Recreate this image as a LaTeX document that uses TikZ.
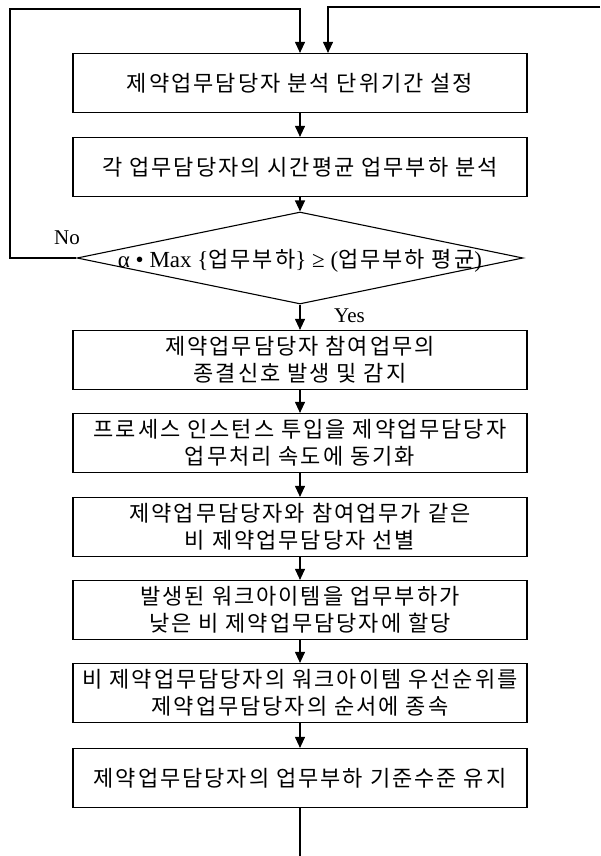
\documentclass[tikz,border=0pt]{standalone}
\usepackage{fontspec}
\setmainfont{Liberation Serif}
\newfontfamily\kr[LetterSpace=9]{Noto Sans CJK KR}
\usetikzlibrary{arrows.meta,shapes.geometric}
\begin{document}
\begin{tikzpicture}[x=1pt,y=-1pt,
  box/.style={draw, line width=1.2pt, minimum width=454pt, minimum height=59pt, inner sep=0pt, align=center, font=\kr\fontsize{22}{27}\selectfont},
  flow/.style={line width=1.1pt, -{Triangle[length=11pt,width=10pt]}},
  plain/.style={line width=1.1pt},
  lbl/.style={font=\fontsize{21}{24}\selectfont, inner sep=0pt}]
\useasboundingbox (0,0) rectangle (600,856);
\node[box] (b1) at (300,83) {제약업무담당자 분석 단위기간 설정};
\node[box] (b2) at (300,167) {각 업무담당자의 시간평균 업무부하 분석};
\node[diamond, draw, line width=1.1pt, minimum width=446pt, minimum height=92pt, inner sep=0pt] (d) at (300,258) {};
\node[font=\fontsize{23}{27}\selectfont, inner sep=0pt] (dt) at (300,261) {α • Max \{{\kr\fontsize{22}{27}\selectfont 업무부하}\} ≥ ({\kr\fontsize{22}{27}\selectfont 업무부하 평균})};
\node[box] (b3) at (300,360) {제약업무담당자 참여업무의\\종결신호 발생 및 감지};
\node[box] (b4) at (300,443) {프로세스 인스턴스 투입을 제약업무담당자\\업무처리 속도에 동기화};
\node[box] (b5) at (300,527) {제약업무담당자와 참여업무가 같은\\비 제약업무담당자 선별};
\node[box] (b6) at (300,610) {발생된 워크아이템을 업무부하가\\낮은 비 제약업무담당자에 할당};
\node[box] (b7) at (300,693) {비 제약업무담당자의 워크아이템 우선순위를\\제약업무담당자의 순서에 종속};
\node[box] (b8) at (300,778) {제약업무담당자의 업무부하 기준수준 유지};
\node[lbl, anchor=west] (yes) at (334,316) {Yes};
\node[lbl] (no) at (67,238) {No};
\coordinate (lc) at (10,9);
\coordinate (rs) at (600,7);
\coordinate (endp) at (300,856);
\draw[flow] (b1) -- (b2);
\draw[flow] (b2) -- (d);
\draw[flow] (d) -- (b3);
\draw[flow] (b3) -- (b4);
\draw[flow] (b4) -- (b5);
\draw[flow] (b5) -- (b6);
\draw[flow] (b6) -- (b7);
\draw[flow] (b7) -- (b8);
\draw[plain] (b8) -- (endp);
\draw[flow] (d.west) -| (lc) -| (b1.north);
\draw[flow] (rs) -| ([xshift=28pt]b1.north);
\end{tikzpicture}
\end{document}
